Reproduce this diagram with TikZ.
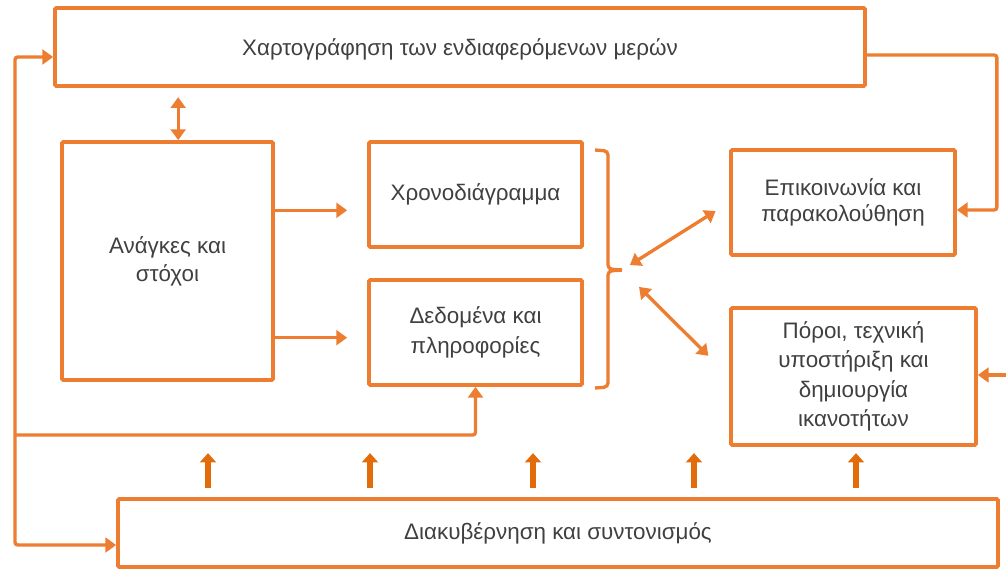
\documentclass[tikz,border=0pt]{standalone}
\usepackage{fontspec}
\setmainfont{Liberation Sans}
\usetikzlibrary{arrows.meta,fit,calc}
\definecolor{org}{HTML}{ED7D31}
\definecolor{orgd}{HTML}{E36C0A}
\definecolor{txt}{HTML}{404040}
\begin{document}
\begin{tikzpicture}[x=0.75pt,y=-0.75pt,
  box/.style={draw=org,line width=2.8pt,rounded corners=1pt,inner sep=0pt},
  lbl/.style={inner sep=0pt,align=center,text=txt,font=\fontsize{16.8}{21}\selectfont},
  arr/.style={draw=org,line width=2.5pt,-{Triangle[width=11pt,length=8pt]}},
  darr/.style={draw=org,line width=2.5pt,{Triangle[width=11pt,length=8pt]}-{Triangle[width=11pt,length=8pt]}},
  uparr/.style={draw=orgd,line width=4.4pt,-{Triangle[width=12pt,length=7pt]}},
  plain/.style={draw=org,line width=2.5pt}]
\useasboundingbox (0,0) rectangle (1006,570);
\fill[white] (0,0) rectangle (1006,570);

\node[box,fit={(55,8) (865,86)}] (top) {};
\node[box,fit={(62,142) (273,380)}] (needs) {};
\node[box,fit={(369,142) (582,247)}] (sched) {};
\node[box,fit={(369,280) (582,385)}] (data) {};
\node[box,fit={(731,150) (955,255)}] (comm) {};
\node[box,fit={(731,308) (976,445)}] (res) {};
\node[box,fit={(118,499) (998,567)}] (gov) {};

\node[lbl,yshift=-1.5pt] (topT) at (top.center) {Χαρτογράφηση των ενδιαφερόμενων μερών};
\node[lbl] (needsT) at (needs.center) {Ανάγκες και\\στόχοι};
\node[lbl] (schedT) at (sched.center) {Χρονοδιάγραμμα};
\node[lbl,font=\fontsize{16.8}{22.5}\selectfont] (dataT) at (data.center) {Δεδομένα και\\πληροφορίες};
\node[lbl,font=\fontsize{16.8}{20}\selectfont] (commT) at (comm.center) {Επικοινωνία και\\παρακολούθηση};
\node[lbl,font=\fontsize{16.8}{22}\selectfont] (resT) at (res.center) {Πόροι, τεχνική\\υποστήριξη και\\δημιουργία\\ικανοτήτων};
\node[lbl] (govT) at (gov.center) {Διακυβέρνηση και συντονισμός};

% left loop
\coordinate (L) at (15,435);
\draw[arr,rounded corners=2pt] (L) |- ([yshift=-7.5pt]top.west);
\draw[arr,rounded corners=2pt] (L) |- ([yshift=-9pt]gov.west);
\draw[arr,rounded corners=2pt] (L) -| (data.south);

% right loop
\draw[arr,rounded corners=2pt] ([yshift=-6pt]top.east) -- ++(130,0) |- ([yshift=-5.6pt]comm.east);
\coordinate (re) at (1010,375);
\draw[arr] (re) -- (res.east |- re);

% needs -> sched/data
\draw[arr,shorten >=15pt] ([yshift=38pt]needs.east) -- ([yshift=38pt]needs.east -| sched.west);
\draw[arr,shorten >=15pt] ([yshift=-57.5pt]needs.east) -- ([yshift=-57.5pt]needs.east -| data.west);

% top <-> needs
\draw[darr,shorten <=7pt] ([xshift=8pt]needs.north |- top.south) -- ([xshift=8pt]needs.north);

% brace
\coordinate (bt) at (622,270);
\draw[plain,rounded corners=3pt] (595,150) -- (608,151) -- (608,269) -- (bt);
\draw[plain,rounded corners=3pt] (bt) -- (608,271) -- (608,387) -- (595,388);

% brace <-> right boxes
\draw[darr,shorten <=7pt,shorten >=12pt] (bt) -- (comm.west);
\draw[darr,shorten <=18pt,shorten >=22pt] (bt) -- (res.west);

% bottom up arrows
\foreach \dx in {-262.5,-141,-18.75,102,223.5}
  \draw[uparr] ([xshift=\dx pt,yshift=6.75pt]gov.north) -- ++(0,-35);
\end{tikzpicture}
\end{document}
